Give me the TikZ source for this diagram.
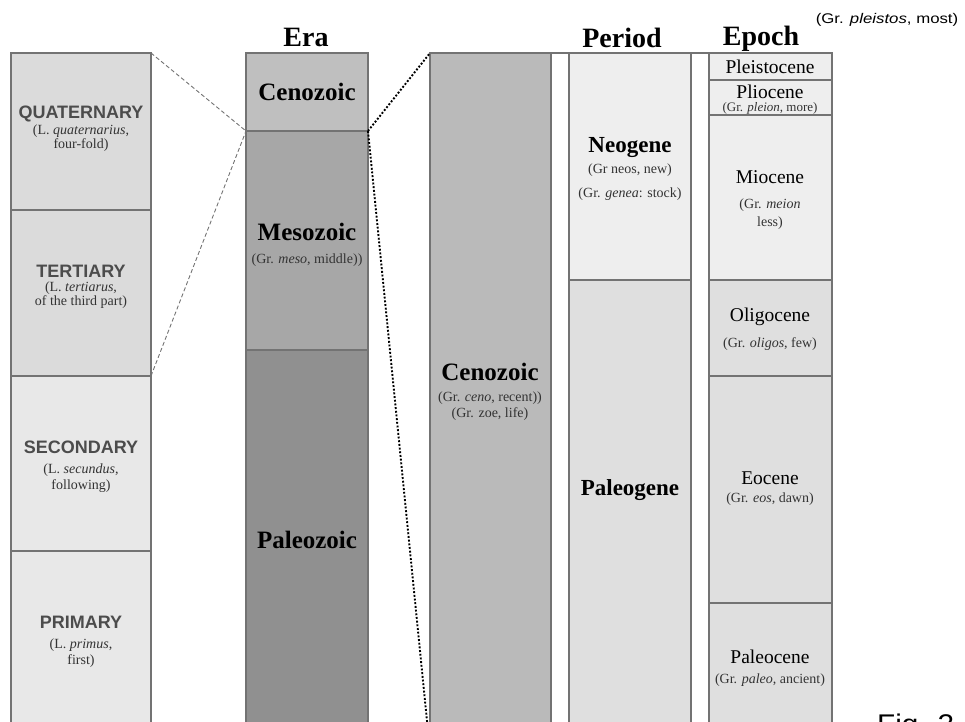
\documentclass[tikz,border=0pt]{standalone}
\usepackage{fontspec}
\setmainfont{Liberation Serif}
\newfontfamily\figsans[FakeStretch=1.2]{Liberation Sans}
\newfontfamily\decosans{Liberation Sans}
\definecolor{quatgray}{gray}{0.86}
\definecolor{secgray}{gray}{0.91}
\definecolor{cenogray}{gray}{0.75}
\definecolor{mesogray}{gray}{0.655}
\definecolor{paleogray}{gray}{0.565}
\definecolor{biggray}{gray}{0.73}
\definecolor{neogray}{gray}{0.935}
\definecolor{palgray}{gray}{0.875}
\newcommand\hdsize{\fontsize{28}{30}\selectfont\bfseries}
\newcommand\erasize{\fontsize{25}{27}\selectfont\bfseries}
\newcommand\persize{\fontsize{23}{25}\selectfont\bfseries}
\newcommand\epsize{\fontsize{19.5}{21}\selectfont}
\newcommand\notesize{\fontsize{14}{15}\selectfont}
\newcommand\decosize{\decosans\fontsize{18}{20}\selectfont\bfseries}
\begin{document}
\begin{tikzpicture}[x=1pt, y=-1pt,
    blk/.style={draw=black!55, line width=1.1pt, inner sep=0pt, outer sep=0pt},
    hd/.style={inner sep=0pt, font=\hdsize},
    era/.style={inner sep=0pt, font=\erasize},
    per/.style={inner sep=0pt, font=\persize},
    ep/.style={inner sep=0pt, font=\epsize},
    note/.style={inner sep=0pt, text=black!80, font=\notesize},
    deco/.style={inner sep=0pt, text=gray!60!black, font=\decosize},
    dashline/.style={gray!90!black, line width=0.9pt, dash pattern=on 4pt off 2.5pt},
    dotline/.style={black, line width=1.9pt, dash pattern=on 1.9pt off 1.8pt}]
    \useasboundingbox (0,0) rectangle (965,721);
    \clip (0,0) rectangle (965,721);
    % blocks: name/left/top/right/bottom/fill
    \foreach \name/\xa/\ya/\xb/\yb/\col in {
        quat/11/53/151/210/quatgray, tert/11/210/151/376/quatgray,
        sec/11/376/151/551/secgray, prim/11/551/151/751/secgray,
        cenoera/246/53/368/131/cenogray, meso/246/131/368/350/mesogray,
        paleo/246/350/368/751/paleogray,
        bigceno/430/53/551/751/biggray, gapa/551/53/569/751/white,
        neo/569/53/691/280/neogray, paleog/569/280/691/751/palgray,
        gapb/691/53/709/751/white,
        pleist/709/53/832/80/neogray, plio/709/80/832/115/neogray,
        mio/709/115/832/280/neogray, oligo/709/280/832/376/palgray,
        eo/709/376/832/603/palgray, paleoc/709/603/832/751/palgray}
        \node[blk, fill=\col, minimum width={(\xb-\xa)*1pt}, minimum height={(\yb-\ya)*1pt}]
            (\name) at ({(\xa+\xb)/2},{(\ya+\yb)/2}) {};
    % connectors
    \draw[dashline] (quat.north east) -- (cenoera.south west);
    \draw[dashline] (tert.south east) -- (cenoera.south west);
    \draw[dotline] (cenoera.south east) -- (bigceno.north west);
    \draw[dotline] (cenoera.south east) -- (bigceno.south west);
    % headers
    \node[hd] (erahd) at (306,37) {Era};
    \node[hd] (perhd) at (622,38) {Period};
    \node[hd] (ephd) at (761,39) {Epoch};
    \node[inner sep=0pt, font=\figsans\fontsize{14}{16}\selectfont] (pleistos) at (887,20) {(Gr. \textit{pleistos}, most)};
    % left column
    \node[deco] (quatname) at (81,114) {QUATERNARY};
    \node[note] at (81,131) {(L. \textit{quaternarius},};
    \node[note] at (81,145) {four-fold)};
    \node[deco] (tertname) at (81,271) {TERTIARY};
    \node[note] at (81,288) {(L. \textit{tertiarus},};
    \node[note] at (81,302) {of the third part)};
    \node[deco] (secname) at (81,447) {SECONDARY};
    \node[note] at (81,470) {(L. \textit{secundus},};
    \node[note] at (81,486) {following)};
    \node[deco] (primname) at (81,622) {PRIMARY};
    \node[note] at (81,645) {(L. \textit{primus},};
    \node[note] at (81,661) {first)};
    % eras
    \node[era] (cenoname) at (307,92) {Cenozoic};
    \node[era] (mesoname) at (307,232) {Mesozoic};
    \node[note] at (307,260) {(Gr. \textit{meso}, middle))};
    \node[era] (paleoname) at (307,540) {Paleozoic};
    \node[era] (bigname) at (490,372) {Cenozoic};
    \node[note] at (490,398) {(Gr. \textit{ceno}, recent))};
    \node[note] at (490,414) {(Gr. zoe, life)};
    % periods
    \node[per] (neoname) at (630,148) {Neogene};
    \node[note] at (630,170) {(Gr neos, new)};
    \node[note] at (630,194) {(Gr. \textit{genea}: stock)};
    \node[per] (paleogname) at (630,490) {Paleogene};
    % epochs
    \node[ep] (pleistname) at (770,67) {Pleistocene};
    \node[ep] (plioname) at (770,92) {Pliocene};
    \node[note, font=\fontsize{13}{14}\selectfont] at (770,108) {(Gr. \textit{pleion}, more)};
    \node[ep] (mioname) at (770,177) {Miocene};
    \node[note] at (770,205) {(Gr. \textit{meion}};
    \node[note] at (770,223) {less)};
    \node[ep] (oligoname) at (770,317) {Oligocene};
    \node[note] at (770,344) {(Gr. \textit{oligos}, few)};
    \node[ep] (eoname) at (770,478) {Eocene};
    \node[note] at (770,499) {(Gr. \textit{eos}, dawn)};
    \node[ep] (paleocname) at (770,657) {Paleocene};
    \node[note] at (770,680) {(Gr. \textit{paleo}, ancient)};
    \node[anchor=base west, inner sep=0pt, font=\figsans\fontsize{27}{30}\selectfont\addfontfeature{FakeStretch=1.1}] (fig) at (877,733) {Fig. 2};
\end{tikzpicture}
\end{document}
